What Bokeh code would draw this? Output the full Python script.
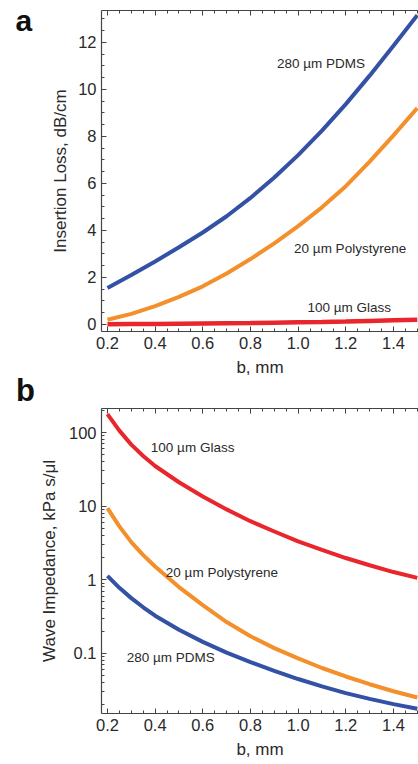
from bokeh.plotting import figure
from bokeh.layouts import column
from bokeh.models import LinearAxis, Label, Range1d, FixedTicker, PrintfTickFormatter, Div
from bokeh.embed import file_html
from bokeh.resources import INLINE

# ---------------- data ----------------
# panel a: insertion loss (dB/cm) vs b (mm)
b_a = [0.2, 0.3, 0.4, 0.5, 0.6, 0.7, 0.8, 0.9, 1.0, 1.1, 1.2, 1.3, 1.4, 1.5]
loss_pdms = [1.55, 2.1, 2.68, 3.28, 3.91, 4.6, 5.38, 6.25, 7.2, 8.24, 9.37, 10.58, 11.85, 13.15]
loss_ps = [0.2, 0.45, 0.78, 1.17, 1.62, 2.17, 2.78, 3.45, 4.18, 4.98, 5.88, 6.92, 8.04, 9.2]
loss_glass = [0.01, 0.015, 0.02, 0.03, 0.04, 0.05, 0.06, 0.075, 0.09, 0.105, 0.125, 0.15, 0.175, 0.2]

# panel b: wave impedance (kPa s/ul) vs b (mm)
b_b = [0.2, 0.25, 0.3, 0.35, 0.4, 0.5, 0.6, 0.7, 0.8, 0.9, 1.0, 1.1, 1.2, 1.3, 1.4, 1.5]
imp_glass = [178, 106, 68.4, 47.9, 35.1, 21.1, 13.5, 9.02, 6.24, 4.52, 3.31, 2.54, 1.97, 1.57, 1.27, 1.06]
imp_ps = [9.4, 5.31, 3.24, 2.16, 1.51, 0.794, 0.452, 0.266, 0.170, 0.1175, 0.0851, 0.0631, 0.0484, 0.038, 0.0305, 0.0251]
imp_pdms = [1.13, 0.776, 0.562, 0.422, 0.324, 0.209, 0.143, 0.102, 0.0759, 0.0575, 0.0447, 0.0355, 0.0288, 0.024, 0.0204, 0.0176]

x_ticks = [0.2, 0.4, 0.6, 0.8, 1.0, 1.2, 1.4]
x_minor = [round(0.15 + 0.05 * i, 2) for i in range(0, 29)]
ya_ticks = [0, 2, 4, 6, 8, 10, 12]
ya_minor = [round(-0.5 + 0.5 * i, 1) for i in range(0, 30)]
yb_ticks = [0.1, 1, 10, 100]
yb_minor = [m * 10.0 ** e for e in range(-2, 3) for m in range(1, 10)]

series_names = ["280 µm PDMS", "20 µm Polystyrene", "100 µm Glass"]
panel_letters = ["a", "b"]
BLUE, ORANGE, RED = "#3351a5", "#f3902c", "#e8262b"

FONT = "Liberation Sans"
TXT = "#2a2a2a"
AXC = "#444444"


def style_axis(ax, show_labels=True):
    ax.axis_line_color = AXC
    ax.axis_line_width = 1.2
    ax.major_tick_line_color = AXC
    ax.minor_tick_line_color = AXC
    ax.major_tick_in = 5
    ax.major_tick_out = 0
    ax.minor_tick_in = 3
    ax.minor_tick_out = 0
    ax.major_label_text_font = FONT
    if show_labels:
        ax.major_label_text_color = TXT
        ax.major_label_text_font_size = "16.5px"
    else:
        ax.major_label_text_color = None
        ax.major_label_text_font_size = "0px"
    ax.major_label_standoff = 5
    ax.axis_label_text_font = FONT
    ax.axis_label_text_font_style = "normal"
    ax.axis_label_text_color = TXT
    ax.axis_label_text_font_size = "17px"


def make_fig(height, yrange, ytype, top, bottom):
    p = figure(width=418, height=height, x_range=Range1d(0.175, 1.505), y_range=yrange,
               y_axis_type=ytype, output_backend="svg", toolbar_location=None,
               min_border_left=101, min_border_right=0, min_border_top=top,
               min_border_bottom=bottom)
    p.outline_line_color = None
    p.grid.visible = False
    p.background_fill_color = "white"
    p.border_fill_color = "white"
    return p


# ---------------- panel a ----------------
pa = make_fig(380, Range1d(-0.3, 13.35), "linear", 10, 49)
pa.title.text = panel_letters[0]
pa.title.text_font = FONT
pa.title.text_font_size = "30px"
pa.title.text_font_style = "bold"
pa.title.text_color = "#111111"
pa.title.align = "left"
pa.title.offset = -86
pa.title.standoff = -53
pa.xaxis.ticker = FixedTicker(ticks=x_ticks, minor_ticks=x_minor)
pa.xaxis.formatter = PrintfTickFormatter(format="%.1f")
pa.yaxis.ticker = FixedTicker(ticks=ya_ticks, minor_ticks=ya_minor)
pa.xaxis.axis_label = "b, mm"
pa.yaxis.axis_label = "Insertion Loss, dB/cm"
for ax in pa.xaxis + pa.yaxis:
    style_axis(ax)
pa.xaxis.axis_label_standoff = 6
pa.yaxis.axis_label_standoff = 5
top_a = LinearAxis(ticker=FixedTicker(ticks=x_ticks, minor_ticks=x_minor))
style_axis(top_a, show_labels=False)
top_a.major_label_standoff = 0
pa.add_layout(top_a, "above")

pa.line(b_a, loss_glass, line_color=RED, line_width=4.5)
pa.line(b_a, loss_ps, line_color=ORANGE, line_width=4)
pa.line(b_a, loss_pdms, line_color=BLUE, line_width=4)

for x, y, t in [(0.911, 11.1, series_names[0]), (0.983, 3.25, series_names[1]), (1.039, 0.72, series_names[2])]:
    pa.add_layout(Label(x=x, y=y, text=t, text_font=FONT, text_font_size="13.5px",
                        text_color=TXT, text_baseline="middle", text_align="left"))

# ---------------- strip holding the letter "b" ----------------
letter_b = Div(text=panel_letters[1], width=418, height=26, margin=0,
               styles={"font-family": FONT, "font-weight": "bold", "font-size": "31px",
                       "line-height": "21px", "padding-left": "16px", "color": "#111111",
                       "overflow": "visible", "background": "white"})

# ---------------- panel b ----------------
pb = make_fig(358, Range1d(0.0152, 212), "log", 2, 51)
pb.xaxis.ticker = FixedTicker(ticks=x_ticks, minor_ticks=x_minor)
pb.xaxis.formatter = PrintfTickFormatter(format="%.1f")
pb.yaxis.ticker = FixedTicker(ticks=yb_ticks, minor_ticks=yb_minor)
pb.yaxis.major_label_overrides = {0.1: "0.1", 1: "1", 10: "10", 100: "100"}
pb.xaxis.axis_label = "b, mm"
pb.yaxis.axis_label = "Wave Impedance, kPa s/μl"
for ax in pb.xaxis + pb.yaxis:
    style_axis(ax)
pb.xaxis.axis_label_standoff = 6
pb.yaxis.axis_label_standoff = 7
top_b = LinearAxis(ticker=FixedTicker(ticks=x_ticks, minor_ticks=x_minor))
style_axis(top_b, show_labels=False)
top_b.major_label_standoff = 0
pb.add_layout(top_b, "above")

pb.line(b_b, imp_glass, line_color=RED, line_width=4)
pb.line(b_b, imp_ps, line_color=ORANGE, line_width=4)
pb.line(b_b, imp_pdms, line_color=BLUE, line_width=4)

for x, y, t in [(0.281, 0.0883, series_names[0]), (0.445, 1.26, series_names[1]), (0.382, 62.4, series_names[2])]:
    pb.add_layout(Label(x=x, y=y, text=t, text_font=FONT, text_font_size="13.5px",
                        text_color=TXT, text_baseline="middle", text_align="left"))

layout = column(pa, letter_b, pb, spacing=0)
open("out.html", "w").write(file_html(layout, INLINE))
